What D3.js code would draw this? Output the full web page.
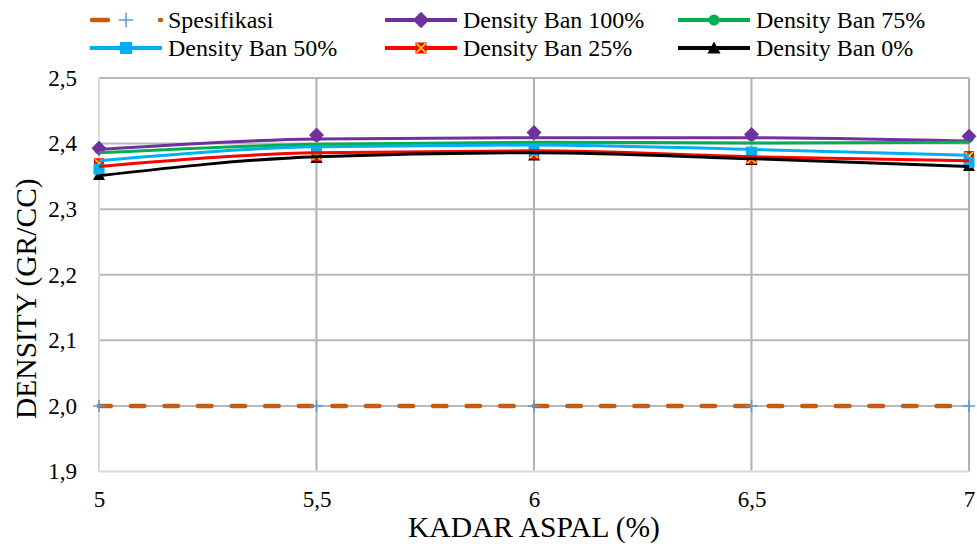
<!DOCTYPE html>
<html>
<head>
<meta charset="utf-8">
<script src="https://cdn.jsdelivr.net/npm/d3@7"></script>
<style>
  html, body { margin: 0; padding: 0; background: #ffffff; }
  svg { display: block; }
  svg text { font-family: "Liberation Serif", "Times New Roman", serif; fill: #000; }
</style>
</head>
<body>
<svg id="chart" width="977" height="544"></svg>
<script>
// Asphalt content (%) on the x axis
const kadarAspal = [5, 5.5, 6, 6.5, 7];
const xTicks = [5, 5.5, 6, 6.5, 7];
const yTicks = [1.9, 2.0, 2.1, 2.2, 2.3, 2.4, 2.5];

// Measured density per mix (markers)
const spesifikasi = [2.0, 2.0, 2.0, 2.0, 2.0];
const ban100 = [2.393, 2.413, 2.417, 2.414, 2.411];
const ban75  = [2.391, 2.410, 2.414, 2.411, 2.409];
const ban50  = [2.361, 2.392, 2.390, 2.387, 2.371];
const ban25  = [2.370, 2.381, 2.384, 2.376, 2.381];
const ban0   = [2.352, 2.378, 2.382, 2.375, 2.366];

// Smoothed trend curves per mix
const trend100 = [2.391, 2.407, 2.409, 2.409, 2.404];
const trend75  = [2.386, 2.399, 2.402, 2.401, 2.402];
const trend50  = [2.374, 2.395, 2.398, 2.391, 2.382];
const trend25  = [2.365, 2.386, 2.389, 2.380, 2.374];
const trend0   = [2.351, 2.380, 2.386, 2.377, 2.365];

const seriesNames = ["Spesifikasi", "Density Ban 100%", "Density Ban 75%",
                     "Density Ban 50%", "Density Ban 25%", "Density Ban 0%"];

const series = [
  { name: seriesNames[1], values: ban100, trend: trend100, color: "#7030A0", marker: "diamond" },
  { name: seriesNames[2], values: ban75,  trend: trend75,  color: "#00B050", marker: "circle" },
  { name: seriesNames[3], values: ban50,  trend: trend50,  color: "#00B0F0", marker: "square" },
  { name: seriesNames[4], values: ban25,  trend: trend25,  color: "#FF0000", marker: "xsquare" },
  { name: seriesNames[5], values: ban0,   trend: trend0,   color: "#000000", marker: "triangle" }
];

const svg = d3.select("#chart");
const plotLeft = 99, plotRight = 969, plotTop = 78, plotBottom = 471.5;
const tickFont = 23, legendFont = 24, titleFont = 29.5;

const x = d3.scaleLinear().domain([5, 7]).range([plotLeft, plotRight]);
const y = d3.scaleLinear().domain([1.9, 2.5]).range([plotBottom, plotTop]);

// Gridlines
const grid = svg.append("g");
grid.selectAll("line.h").data(yTicks.filter(d => d > 1.9)).enter().append("line")
  .attr("x1", plotLeft).attr("x2", plotRight)
  .attr("y1", d => y(d)).attr("y2", d => y(d))
  .attr("stroke", "#b8b8b8").attr("stroke-width", 2);
grid.selectAll("line.v").data(xTicks.filter(d => d > 5)).enter().append("line")
  .attr("x1", d => x(d)).attr("x2", d => x(d))
  .attr("y1", plotTop).attr("y2", plotBottom)
  .attr("stroke", "#b0b0b0").attr("stroke-width", 2);
// Axis lines
grid.append("line").attr("x1", plotLeft).attr("x2", plotLeft).attr("y1", plotTop).attr("y2", plotBottom)
  .attr("stroke", "#d9d9d9").attr("stroke-width", 2);
grid.append("line").attr("x1", plotLeft).attr("x2", plotRight).attr("y1", plotBottom).attr("y2", plotBottom)
  .attr("stroke", "#d9d9d9").attr("stroke-width", 2);

// Tick labels via d3 axes
const fmt = d => d3.format(".1f")(d).replace(".", ",");
const yAxis = svg.append("g").attr("transform", `translate(${plotLeft - 4},0)`)
  .call(d3.axisLeft(y).tickValues(yTicks).tickFormat(fmt).tickSize(0).tickPadding(18));
const xAxis = svg.append("g").attr("transform", `translate(0,${plotBottom})`)
  .call(d3.axisBottom(x).tickValues(xTicks).tickFormat(d => String(d).replace(".", ",")).tickSize(0).tickPadding(19));
[yAxis, xAxis].forEach(a => {
  a.attr("font-family", null).attr("font-size", null);
  a.select(".domain").remove();
  a.selectAll("text").style("font-size", tickFont + "px");
});

// Axis titles
svg.append("text").attr("x", 534).attr("y", 537).attr("text-anchor", "middle")
  .style("font-size", titleFont + "px").text("KADAR ASPAL (%)");
svg.append("text").attr("transform", `translate(36,419) rotate(-90)`)
  .attr("text-anchor", "start").style("font-size", titleFont + "px").text("DENSITY (GR/CC)");

// Marker drawing
function drawMarker(g, type, color, cx, cy, k = 1) {
  if (type === "diamond") {
    const r = 7.5 * k;
    g.append("path").attr("d", `M${cx},${cy - r}L${cx + r},${cy}L${cx},${cy + r}L${cx - r},${cy}Z`)
      .attr("fill", color);
  } else if (type === "circle") {
    g.append("circle").attr("cx", cx).attr("cy", cy).attr("r", 5 * k).attr("fill", color);
  } else if (type === "square") {
    const h = 5.5 * k;
    g.append("rect").attr("x", cx - h).attr("y", cy - h).attr("width", 2 * h).attr("height", 2 * h).attr("fill", color);
  } else if (type === "xsquare") {
    const h = 5 * k;
    g.append("rect").attr("x", cx - h).attr("y", cy - h).attr("width", 2 * h).attr("height", 2 * h).attr("fill", color);
    const a = h - 1;
    g.append("path").attr("d", `M${cx - a},${cy - a}L${cx + a},${cy + a}M${cx + a},${cy - a}L${cx - a},${cy + a}`)
      .attr("stroke", "#FFFF00").attr("stroke-width", 1.5);
  } else if (type === "triangle") {
    g.append("path").attr("d", `M${cx},${cy - 6 * k}L${cx + 6 * k},${cy + 5 * k}L${cx - 6 * k},${cy + 5 * k}Z`).attr("fill", color);
  } else if (type === "plus") {
    const h = 6 * k;
    g.append("path").attr("d", `M${cx - h},${cy}L${cx + h},${cy}M${cx},${cy - h}L${cx},${cy + h}`)
      .attr("stroke", color).attr("stroke-width", 1.5);
  }
}

// Specification line
const line = d3.line().x((d, i) => x(kadarAspal[i])).y(d => y(d));
svg.append("path").datum(spesifikasi).attr("d", line)
  .attr("fill", "none").attr("stroke", "#C55A11").attr("stroke-width", 4.5)
  .attr("stroke-dasharray", "13.5,20.07").attr("stroke-dashoffset", -31.9).attr("stroke-linecap", "round");
const specMarks = svg.append("g");
spesifikasi.forEach((v, i) => drawMarker(specMarks, "plus", "#5B9BD5", x(kadarAspal[i]), y(v)));

// Markers, drawn from the last series up so the first one sits on top
const markG = svg.append("g");
series.slice().reverse().forEach(s => {
  s.values.forEach((v, i) => drawMarker(markG, s.marker, s.color, x(kadarAspal[i]), y(v)));
});

// Smoothed curves
const curve = d3.line().x((d, i) => x(kadarAspal[i])).y(d => y(d)).curve(d3.curveMonotoneX);
const lineG = svg.append("g");
series.forEach(s => {
  lineG.append("path").datum(s.trend).attr("d", curve)
    .attr("fill", "none").attr("stroke", s.color).attr("stroke-width", 3);
});

// Legend
const legendItems = [
  { name: seriesNames[0], color: "#C55A11", marker: "plus", mcolor: "#5B9BD5", dash: true },
  { name: seriesNames[1], color: "#7030A0", marker: "diamond" },
  { name: seriesNames[2], color: "#00B050", marker: "circle" },
  { name: seriesNames[3], color: "#00B0F0", marker: "square" },
  { name: seriesNames[4], color: "#FF0000", marker: "xsquare" },
  { name: seriesNames[5], color: "#000000", marker: "triangle" }
];
const colX = [90, 385, 678];
const rowY = [20, 48];
const leg = svg.append("g");
legendItems.forEach((it, i) => {
  const lx = colX[i % 3], ly = rowY[Math.floor(i / 3)];
  const g = leg.append("g");
  if (it.dash) {
    g.append("line").attr("x1", lx + 2).attr("x2", lx + 71).attr("y1", ly).attr("y2", ly)
      .attr("stroke", it.color).attr("stroke-width", 4.5).attr("stroke-linecap", "round")
      .attr("stroke-dasharray", "16,52");
    drawMarker(g, it.marker, it.mcolor, lx + 36, ly, 1.2);
  } else {
    g.append("line").attr("x1", lx).attr("x2", lx + 72).attr("y1", ly).attr("y2", ly)
      .attr("stroke", it.color).attr("stroke-width", 4);
    drawMarker(g, it.marker, it.color, lx + 36, ly, 1.1);
  }
  g.append("text").attr("x", lx + 78).attr("y", ly).attr("dy", "0.35em")
    .style("font-size", legendFont + "px").text(it.name);
});
</script>
</body>
</html>
